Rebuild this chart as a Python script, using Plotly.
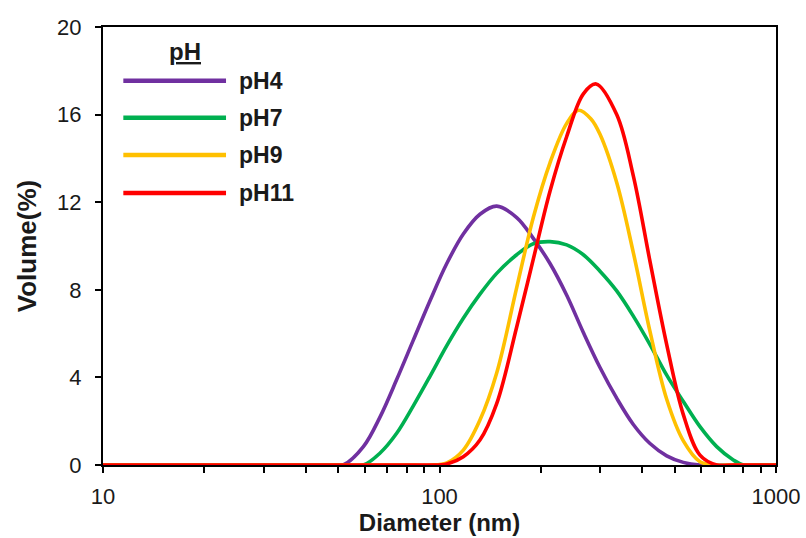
import plotly.graph_objects as go

# ---- data ----
# each series has its own diameter list (extra readings near the sharp peaks)
d_ph4 = [10, 20, 30, 40, 45, 51.7, 59.4, 66.6, 74.6, 83.6, 93.7, 105.1, 117.7,
         131.9, 147.9, 169.6, 190.0, 213.0, 238.8, 267.6, 299.9, 336.2, 376.7,
         422.2, 473.4, 530.4, 594.4, 666.4, 746.6, 799.6, 900, 1000]
v_ph4 = [0, 0, 0, 0, 0, 0, 0.84, 2.2, 3.9, 5.7, 7.5, 9.2, 10.55,
         11.45, 11.82, 11.3, 10.35, 9.2, 7.75, 6.05, 4.45, 3.05, 1.85,
         0.98, 0.42, 0.12, 0, 0, 0, 0, 0, 0]

d_ph7 = [10, 20, 30, 40, 45, 51.7, 59.4, 66.6, 74.6, 83.6, 93.7, 105.1, 117.7,
         131.9, 147.9, 169.6, 190.0, 213.0, 238.8, 267.6, 299.9, 336.2, 376.7,
         422.2, 473.4, 530.4, 594.4, 666.4, 746.6, 799.6, 900, 1000]
v_ph7 = [0, 0, 0, 0, 0, 0, 0, 0.55, 1.45, 2.7, 4.05, 5.45, 6.7,
         7.8, 8.75, 9.6, 10.1, 10.2, 10.05, 9.6, 8.85, 7.95, 6.8,
         5.5, 4.1, 2.9, 1.75, 0.84, 0.23, 0, 0, 0]

d_ph9 = [10, 20, 30, 40, 50, 60, 80, 93.7, 105.1, 117.7, 131.9, 147.9, 169.6,
         190.0, 213.0, 238.8, 259.0, 282.0, 299.9, 336.2, 376.7, 422.2, 473.4,
         530.4, 594.4, 666.4, 746.6, 900, 1000]
v_ph9 = [0, 0, 0, 0, 0, 0, 0, 0, 0.1, 0.68, 2.05, 4.2, 8.1,
         11.3, 13.8, 15.6, 16.2, 15.8, 15.1, 12.9, 9.7, 6.1, 3.0,
         1.1, 0.15, 0, 0, 0, 0]

d_ph11 = [10, 20, 30, 40, 50, 60, 80, 93.7, 105.1, 117.7, 131.9, 147.9, 169.6,
          190.0, 213.0, 238.8, 267.6, 292.0, 336.2, 376.7, 422.2, 473.4, 530.4,
          594.4, 666.4, 746.6, 900, 1000]
v_ph11 = [0, 0, 0, 0, 0, 0, 0, 0, 0.05, 0.38, 1.14, 2.8, 6.3,
          9.4, 12.5, 15.0, 16.95, 17.4, 16.0, 13.2, 9.3, 5.5, 2.3,
          0.45, 0, 0, 0, 0]

series_names = ["pH4", "pH7", "pH9", "pH11"]
series_x = [d_ph4, d_ph7, d_ph9, d_ph11]
series_y = [v_ph4, v_ph7, v_ph9, v_ph11]
series_colors = ["#7030A0", "#00B050", "#FFC000", "#FF0000"]

legend_title = "pH"
x_title = "Diameter (nm)"
y_title = "Volume(%)"

x_tick_vals = [10, 20, 30, 40, 50, 60, 70, 80, 90,
               100, 200, 300, 400, 500, 600, 700, 800, 900, 1000]
x_tick_text = ["10", "", "", "", "", "", "", "", "",
               "100", "", "", "", "", "", "", "", "", "1000"]
y_tick_vals = [0, 4, 8, 12, 16, 20]
y_tick_text = ["0", "4", "8", "12", "16", "20"]

FONT = "Liberation Sans, Arial, sans-serif"
TXT = "#1a1a1a"

fig = go.Figure()
for name, xs, ys, color in zip(series_names, series_x, series_y, series_colors):
    fig.add_trace(go.Scatter(
        x=xs, y=ys, mode="lines", name=name,
        line=dict(color=color, width=3.6, shape="spline", smoothing=1.0),
        showlegend=False, hoverinfo="x+y+name",
    ))

axis_common = dict(showgrid=False, zeroline=False, showline=True, linecolor="black",
                   linewidth=2, mirror=True, tickcolor="black", tickwidth=2, ticklen=6)

fig.update_layout(
    width=806, height=538,
    margin=dict(l=103, r=30, t=27, b=73, autoexpand=False),
    paper_bgcolor="white", plot_bgcolor="white",
    font=dict(family=FONT, color=TXT, size=22),
    xaxis=dict(type="log", range=[1, 3], tickmode="array", tickvals=x_tick_vals,
               ticktext=x_tick_text, ticks="outside", ticklabelstandoff=5,
               tickfont=dict(size=22),
               title=dict(text="<b>" + x_title + "</b>", font=dict(size=24), standoff=0),
               automargin=False, **axis_common),
    yaxis=dict(range=[0, 20], tickmode="array", tickvals=y_tick_vals,
               ticktext=y_tick_text, ticks="outside", ticklabelstandoff=9,
               tickfont=dict(size=22),
               title=dict(text="<b>" + y_title + "</b>", font=dict(size=26), standoff=13),
               automargin=False, **axis_common),
    xaxis2=dict(type="log", range=[1, 3], overlaying="x", anchor="y", side="bottom",
                tickmode="array", tickvals=x_tick_vals, showticklabels=False,
                ticks="inside", ticklen=6, tickwidth=2, tickcolor="black",
                showgrid=False, zeroline=False, showline=False),
    yaxis2=dict(range=[0, 20], overlaying="y", anchor="x", side="left",
                tickmode="array", tickvals=y_tick_vals, showticklabels=False,
                ticks="inside", ticklen=6, tickwidth=2, tickcolor="black",
                showgrid=False, zeroline=False, showline=False),
    showlegend=False,
)

# ---- hand-drawn legend (long line samples like the original) ----
row_y = [0.8774, 0.7929, 0.7078, 0.6210]
for name, color, yy in zip(series_names, series_colors, row_y):
    fig.add_shape(type="line", xref="paper", yref="paper", x0=0.0302, x1=0.1828,
                  y0=yy, y1=yy, line=dict(color=color, width=4.5))
    fig.add_annotation(xref="paper", yref="paper", x=0.199, y=yy, text="<b>" + name + "</b>",
                       showarrow=False, xanchor="left", yanchor="middle",
                       font=dict(size=23, family=FONT, color=TXT))
fig.add_annotation(xref="paper", yref="paper", x=0.122, y=0.9436,
                   text="<b><u>" + legend_title + "</u></b>", showarrow=False,
                   xanchor="center", yanchor="middle",
                   font=dict(size=24, family=FONT, color=TXT))

fig.write_html("out.html", config={"displayModeBar": False},
               post_script="document.body.style.margin='0px';document.body.style.overflow='hidden';")
